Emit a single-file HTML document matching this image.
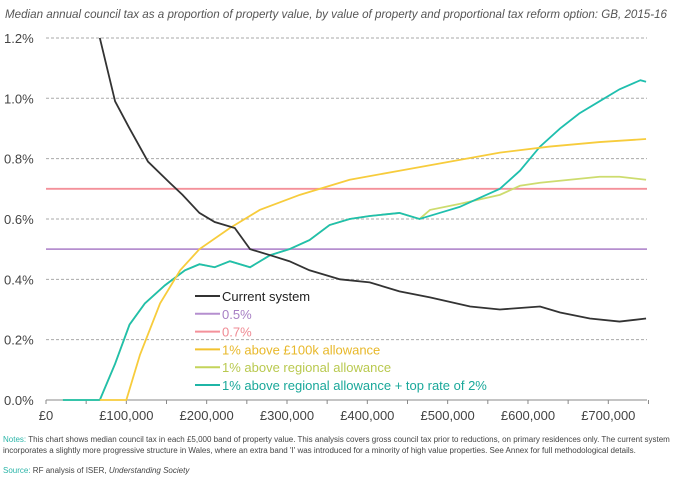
<!DOCTYPE html>
<html><head><meta charset="utf-8"><style>
body{margin:0;background:#fff;width:673px;height:479px;overflow:hidden;font-family:"Liberation Sans",sans-serif}
svg{position:absolute;left:0;top:0}
</style></head><body>
<svg width="673" height="479">
<text x="5" y="18" font-size="11.5" font-style="italic" fill="#555" textLength="662" lengthAdjust="spacingAndGlyphs">Median annual council tax as a proportion of property value, by value of property and proportional tax reform option: GB, 2015-16</text>
<g id="grid"></g><g id="axes"></g><g id="series"></g><g id="legend"></g>
<text x="3" y="442" font-size="8" fill="#444"><tspan fill="#2bb5a8">Notes:</tspan> This chart shows median council tax in each £5,000 band of property value. This analysis covers gross council tax prior to reductions, on primary residences only. The current system</text>
<text x="3" y="453" font-size="8" fill="#444">incorporates a slightly more progressive structure in Wales, where an extra band 'I' was introduced for a minority of high value properties. See Annex for full methodological details.</text>
<text x="3" y="473" font-size="8" fill="#444"><tspan fill="#2bb5a8">Source:</tspan> RF analysis of ISER, <tspan font-style="italic">Understanding Society</tspan></text>
</svg>
<script>
const yTicks=[0,0.2,0.4,0.6,0.8,1.0,1.2];
const xTicks=[0,100,200,300,400,500,600,700];
const curX=[67,86,104,127,154,170,191,210,235,254,279,303,328,366,403,440,478,528,565,615,640,677,714,747];
const curY=[1.2,0.99,0.9,0.79,0.72,0.68,0.62,0.59,0.57,0.5,0.48,0.46,0.43,0.40,0.39,0.36,0.34,0.31,0.30,0.31,0.29,0.27,0.26,0.27];
const yelX=[67,100,117,142,167,191,229,266,316,378,440,503,565,627,689,747];
const yelY=[0,0,0.15,0.32,0.43,0.5,0.57,0.63,0.68,0.73,0.76,0.79,0.82,0.84,0.855,0.865];
const tealX=[21,67,86,104,123,148,173,191,210,229,254,279,303,328,353,378,403,440,465,490,515,540,565,590,615,640,664,689,714,740,747];
const tealY=[0,0,0.12,0.25,0.32,0.38,0.43,0.45,0.44,0.46,0.44,0.48,0.50,0.53,0.58,0.60,0.61,0.62,0.60,0.62,0.64,0.67,0.70,0.76,0.84,0.90,0.95,0.99,1.03,1.06,1.055];
const grnX=[21,67,86,104,123,148,173,191,210,229,254,279,303,328,353,378,403,440,465,478,515,565,590,615,652,689,714,747];
const grnY=[0,0,0.12,0.25,0.32,0.38,0.43,0.45,0.44,0.46,0.44,0.48,0.50,0.53,0.58,0.60,0.61,0.62,0.60,0.63,0.65,0.68,0.71,0.72,0.73,0.74,0.74,0.73];
const legendLabels=["Current system","0.5%","0.7%","1% above £100k allowance","1% above regional allowance","1% above regional allowance + top rate of 2%"];
const ns="http://www.w3.org/2000/svg";
const X=v=>46+v*0.8033, Y=v=>400-v*301.7;
function mk(t,a,p){const e=document.createElementNS(ns,t);for(const k in a)e.setAttribute(k,a[k]);p.appendChild(e);return e;}
const grid=document.getElementById('grid'),axes=document.getElementById('axes'),ser=document.getElementById('series'),leg=document.getElementById('legend');
yTicks.forEach(v=>{
 if(v>0){const l=mk('line',{x1:46,x2:647,y1:Y(v),y2:Y(v),stroke:'#aaa','stroke-dasharray':'3,2','stroke-width':1},grid);
 
 }
 const t=mk('text',{x:4,y:Y(v)+5,'font-size':13,fill:'#444'},axes);t.textContent=v.toFixed(1)+'%';
 
 
});
const ax=mk('line',{x1:46,x2:647,y1:400,y2:400,stroke:'#888','stroke-width':1},axes);


for(let k=0;k<=750;k+=50){const tk=mk('line',{x1:X(k),x2:X(k),y1:400,y2:404,stroke:'#888'},axes);
 
 }
xTicks.forEach(v=>{const t=mk('text',{x:X(v),y:420,'font-size':13,fill:'#444','text-anchor':'middle'},axes);
 t.textContent=v===0?'£0':'£'+v+',000';
 
 });
function line(xs,ys,c,n){const p=mk('polyline',{points:xs.map((x,i)=>X(x)+','+Y(ys[i])).join(' '),fill:'none',stroke:c,'stroke-width':1.8},ser);
 
 }
const h1=mk('line',{x1:46,x2:647,y1:Y(0.5),y2:Y(0.5),stroke:'#b58fcf','stroke-width':1.8},ser);


const h2=mk('line',{x1:46,x2:647,y1:Y(0.7),y2:Y(0.7),stroke:'#f4919a','stroke-width':1.8},ser);


line(grnX,grnY,'#cddc6e','line-regional-allowance');
line(tealX,tealY,'#1fbfae','line-regional-top-rate');
line(yelX,yelY,'#f7cc3c','line-100k-allowance');
line(curX,curY,'#333','line-current-system');
const cols=['#333','#b58fcf','#f4919a','#f2c230','#c4d45a','#1fb5a6'];
const tcols=['#222','#a77fc4','#ef8a93','#e8b82a','#b9c94f','#1aa89a'];
legendLabels.forEach((s,i)=>{const y=296+i*17.8;
 const l=mk('line',{x1:195,x2:220,y1:y,y2:y,stroke:cols[i],'stroke-width':2},leg);
 
 
 const t=mk('text',{x:222,y:y+5,'font-size':13,fill:tcols[i]},leg);t.textContent=s;
 
 });
</script>
</body></html>
